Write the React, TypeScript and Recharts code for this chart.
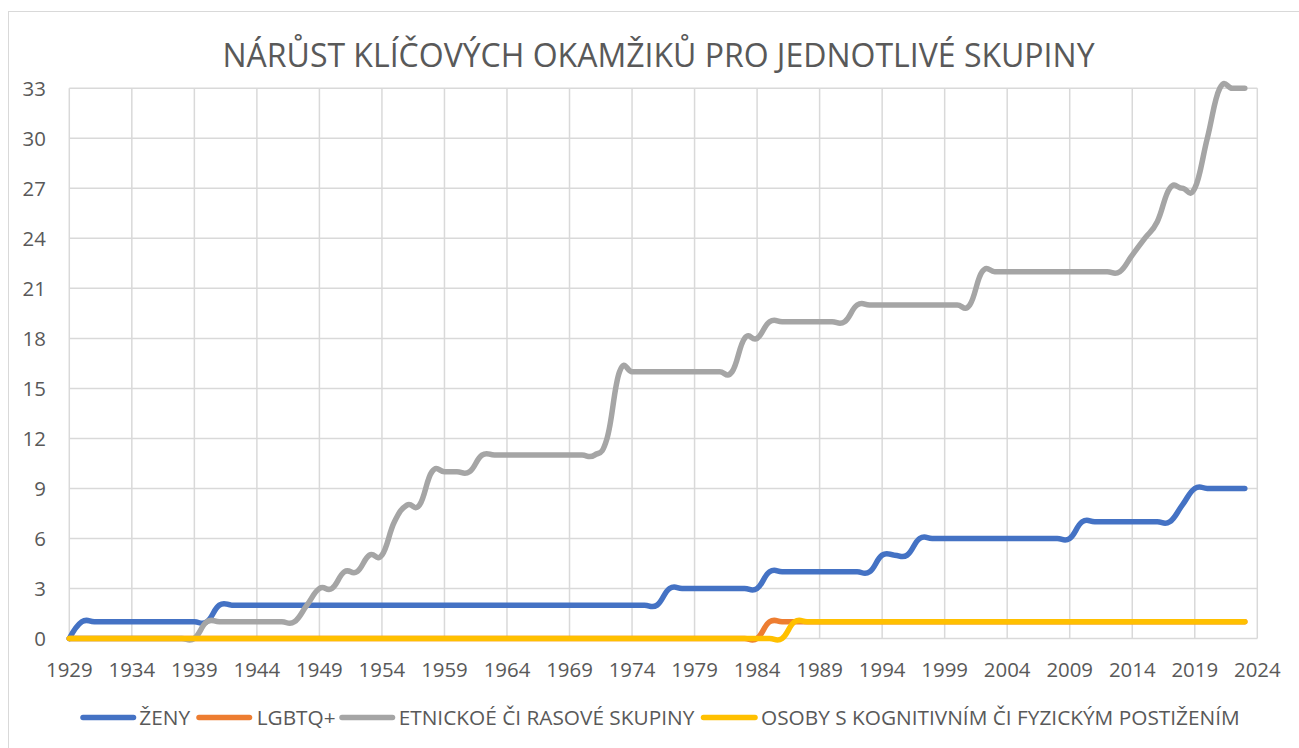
import { LineChart, Line, XAxis, YAxis, CartesianGrid } from 'recharts';

const years = [
  1929, 1930, 1931, 1932, 1933, 1934, 1935, 1936, 1937, 1938,
  1939, 1940, 1941, 1942, 1943, 1944, 1945, 1946, 1947, 1948,
  1949, 1950, 1951, 1952, 1953, 1954, 1955, 1956, 1957, 1958,
  1959, 1960, 1961, 1962, 1963, 1964, 1965, 1966, 1967, 1968,
  1969, 1970, 1971, 1972, 1973, 1974, 1975, 1976, 1977, 1978,
  1979, 1980, 1981, 1982, 1983, 1984, 1985, 1986, 1987, 1988,
  1989, 1990, 1991, 1992, 1993, 1994, 1995, 1996, 1997, 1998,
  1999, 2000, 2001, 2002, 2003, 2004, 2005, 2006, 2007, 2008,
  2009, 2010, 2011, 2012, 2013, 2014, 2015, 2016, 2017, 2018,
  2019, 2020, 2021, 2022, 2023,
];

const zeny = [
  0, 1, 1, 1, 1, 1, 1, 1, 1, 1,
  1, 1, 2, 2, 2, 2, 2, 2, 2, 2,
  2, 2, 2, 2, 2, 2, 2, 2, 2, 2,
  2, 2, 2, 2, 2, 2, 2, 2, 2, 2,
  2, 2, 2, 2, 2, 2, 2, 2, 3, 3,
  3, 3, 3, 3, 3, 3, 4, 4, 4, 4,
  4, 4, 4, 4, 4, 5, 5, 5, 6, 6,
  6, 6, 6, 6, 6, 6, 6, 6, 6, 6,
  6, 7, 7, 7, 7, 7, 7, 7, 7, 8,
  9, 9, 9, 9, 9,
];

const lgbtq = [
  0, 0, 0, 0, 0, 0, 0, 0, 0, 0,
  0, 0, 0, 0, 0, 0, 0, 0, 0, 0,
  0, 0, 0, 0, 0, 0, 0, 0, 0, 0,
  0, 0, 0, 0, 0, 0, 0, 0, 0, 0,
  0, 0, 0, 0, 0, 0, 0, 0, 0, 0,
  0, 0, 0, 0, 0, 0, 1, 1, 1, 1,
  1, 1, 1, 1, 1, 1, 1, 1, 1, 1,
  1, 1, 1, 1, 1, 1, 1, 1, 1, 1,
  1, 1, 1, 1, 1, 1, 1, 1, 1, 1,
  1, 1, 1, 1, 1,
];

const etnicke = [
  0, 0, 0, 0, 0, 0, 0, 0, 0, 0,
  0, 1, 1, 1, 1, 1, 1, 1, 1, 2,
  3, 3, 4, 4, 5, 5, 7, 8, 8, 10,
  10, 10, 10, 11, 11, 11, 11, 11, 11, 11,
  11, 11, 11, 12, 16, 16, 16, 16, 16, 16,
  16, 16, 16, 16, 18, 18, 19, 19, 19, 19,
  19, 19, 19, 20, 20, 20, 20, 20, 20, 20,
  20, 20, 20, 22, 22, 22, 22, 22, 22, 22,
  22, 22, 22, 22, 22, 23, 24, 25, 27, 27,
  27, 30, 33, 33, 33,
];

const osoby = [
  0, 0, 0, 0, 0, 0, 0, 0, 0, 0,
  0, 0, 0, 0, 0, 0, 0, 0, 0, 0,
  0, 0, 0, 0, 0, 0, 0, 0, 0, 0,
  0, 0, 0, 0, 0, 0, 0, 0, 0, 0,
  0, 0, 0, 0, 0, 0, 0, 0, 0, 0,
  0, 0, 0, 0, 0, 0, 0, 0, 1, 1,
  1, 1, 1, 1, 1, 1, 1, 1, 1, 1,
  1, 1, 1, 1, 1, 1, 1, 1, 1, 1,
  1, 1, 1, 1, 1, 1, 1, 1, 1, 1,
  1, 1, 1, 1, 1,
];

const xTicks = [1929, 1934, 1939, 1944, 1949, 1954, 1959, 1964, 1969, 1974, 1979, 1984, 1989, 1994, 1999, 2004, 2009, 2014, 2019, 2024];
const yTicks = [0, 3, 6, 9, 12, 15, 18, 21, 24, 27, 30, 33];

const series = [
  { key: 'zeny', name: 'ŽENY', color: '#4472C4' },
  { key: 'lgbtq', name: 'LGBTQ+', color: '#ED7D31' },
  { key: 'etnicke', name: 'ETNICKOÉ ČI RASOVÉ SKUPINY', color: '#A5A5A5' },
  { key: 'osoby', name: 'OSOBY S KOGNITIVNÍM ČI FYZICKÝM POSTIŽENÍM', color: '#FFC000' },
];

const rows = years.map((year, i) => ({
  year,
  zeny: zeny[i],
  lgbtq: lgbtq[i],
  etnicke: etnicke[i],
  osoby: osoby[i],
}));

// smoothed line like Excel's "smoothed line" (cardinal spline, a bit looser than catmull-rom)
const K = 0.22;
function smoothCurve(context: any) {
  let x0 = NaN, x1 = NaN, x2 = NaN, y0 = NaN, y1 = NaN, y2 = NaN;
  let pt = 0;
  let line = NaN;
  const seg = (x: number, y: number) => {
    context.bezierCurveTo(
      x1 + K * (x2 - x0), y1 + K * (y2 - y0),
      x2 + K * (x1 - x), y2 + K * (y1 - y),
      x2, y2,
    );
  };
  return {
    areaStart() { line = 0; },
    areaEnd() { line = NaN; },
    lineStart() { x0 = x1 = x2 = y0 = y1 = y2 = NaN; pt = 0; },
    lineEnd() {
      if (pt === 2) context.lineTo(x2, y2);
      else if (pt === 3) seg(x1, y1);
      if (line || (line !== 0 && pt === 1)) context.closePath();
      line = 1 - line;
    },
    point(x: number, y: number) {
      x = +x; y = +y;
      if (pt === 0) {
        pt = 1;
        if (line) context.lineTo(x, y); else context.moveTo(x, y);
      } else if (pt === 1) {
        pt = 2; x1 = x; y1 = y;
      } else {
        pt = 3; seg(x, y);
      }
      x0 = x1; x1 = x2; x2 = x;
      y0 = y1; y1 = y2; y2 = y;
    },
  };
}

const FONT = '"Open Sans", sans-serif';
const TEXT = '#595959';

const legendPos = [
  { x1: 83, x2: 133.5, tx: 139.3 },
  { x1: 199, x2: 249.5, tx: 256.7 },
  { x1: 342, x2: 392.5, tx: 398.7 },
  { x1: 703.5, x2: 755, tx: 761 },
];

export default function App() {
  return (
    <div style={{ position: 'fixed', left: 0, top: 0, width: 1299, height: 748, overflow: 'hidden', background: '#fff', fontFamily: FONT }}>
      <div style={{ position: 'absolute', left: 7.5, top: 11, width: 1400, height: 800, border: '1px solid #D9D9D9' }} />
      <div style={{ position: 'absolute', left: 0, top: 0 }}>
        <LineChart width={1299} height={748} data={rows} margin={{ top: 88.3, right: 41.7, bottom: 79.5, left: 9.3 }}>
          <CartesianGrid stroke="#D9D9D9" strokeWidth={1.5} />
          <XAxis
            dataKey="year"
            type="number"
            domain={[1929, 2024]}
            ticks={xTicks}
            interval={0}
            height={30}
            tickLine={false}
            tickSize={0}
            tickMargin={24.4}
            axisLine={false}
            tick={{ fill: TEXT, fontSize: 20.4, fontFamily: FONT }}
          />
          <YAxis
            domain={[0, 33]}
            ticks={yTicks}
            interval={0}
            width={60}
            axisLine={false}
            tickLine={false}
            tickSize={0}
            tickMargin={23.5}
            tick={{ fill: TEXT, fontSize: 20.4, fontFamily: FONT }}
          />
          {series.map((s) => (
            <Line
              key={s.key}
              dataKey={s.key}
              name={s.name}
              type={smoothCurve as any}
              stroke={s.color}
              strokeWidth={5.5}
              strokeLinecap="round"
              strokeLinejoin="round"
              dot={false}
              activeDot={false}
              isAnimationActive={false}
            />
          ))}
        </LineChart>
      </div>
      <svg width={1299} height={748} style={{ position: 'absolute', left: 0, top: 0, pointerEvents: 'none' }}>
        <text x={658.5} y={66.7} textAnchor="middle" fontFamily={FONT} fontSize={32} fill={TEXT}>
          NÁRŮST KLÍČOVÝCH OKAMŽIKŮ PRO JEDNOTLIVÉ SKUPINY
        </text>
        {series.map((s, i) => (
          <g key={s.key}>
            <line x1={legendPos[i].x1} x2={legendPos[i].x2} y1={717.5} y2={717.5} stroke={s.color} strokeWidth={5.5} strokeLinecap="round" />
            <text x={legendPos[i].tx} y={725} fontFamily={FONT} fontSize={20.8} fill={TEXT}>{s.name}</text>
          </g>
        ))}
      </svg>
    </div>
  );
}
